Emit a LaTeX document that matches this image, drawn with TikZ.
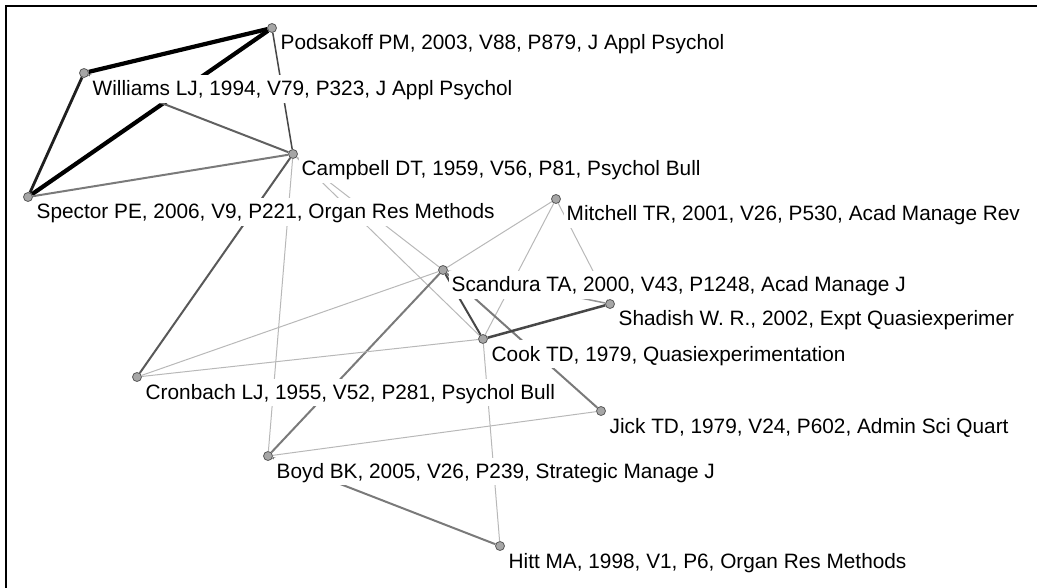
\documentclass[tikz,border=0pt]{standalone}
\usepackage{fontspec}
\setmainfont{Liberation Sans}

\begin{document}
\begin{tikzpicture}[x=1pt,y=-1pt,
  refnode/.style={circle,draw=black!65,fill=black!35,line width=0.8pt,inner sep=0pt,minimum size=9pt},
  reflabel/.style={anchor=base west,fill=white,inner sep=2.5pt,text height=18pt,text depth=4.5pt,font=\fontsize{20.8}{24}\selectfont},
  weaktie/.style={black!28,line width=1pt},
  midtie/.style={black!52,line width=2pt},
  strongtie/.style={black!72,line width=2pt},
  heavytie/.style={black!88,line width=2.8pt},
  toptie/.style={black,line width=4.2pt}]
\useasboundingbox (0,0) rectangle (1037,588);
\draw[line width=2pt] (6,588) -- (6,6) -- (1037,6);
% cited references
\node[refnode] (pod) at (272,28) {};
\node[refnode] (wil) at (84,73) {};
\node[refnode] (cam) at (293,154) {};
\node[refnode] (spe) at (28,197) {};
\node[refnode] (mit) at (556,199) {};
\node[refnode] (sca) at (443,270) {};
\node[refnode] (sha) at (610,304) {};
\node[refnode] (coo) at (483,339) {};
\node[refnode] (cro) at (137,377) {};
\node[refnode] (jic) at (601,411) {};
\node[refnode] (boy) at (268,456) {};
\node[refnode] (hit) at (500,546) {};
% co-citation links
\draw[toptie] (pod) -- (wil);
\draw[toptie] (pod) -- (spe);
\draw[heavytie] (wil) -- (spe);
\draw[strongtie,line width=1.5pt] (pod) -- (cam);
\draw[midtie,black!62] (wil) -- (cam);
\draw[midtie] (spe) -- (cam);
\draw[strongtie,black!65] (cam) -- (cro);
\draw[weaktie] (cam) -- (boy);
\draw[weaktie] (cam) -- (sca);
\draw[weaktie] (cam) -- (coo);
\draw[weaktie] (mit) -- (sca);
\draw[weaktie] (mit) -- (coo);
\draw[weaktie] (mit) -- (sha);
\draw[weaktie] (sca) -- (cro);
\draw[midtie,black!42,line width=1.5pt] (sca) -- (sha);
\draw[strongtie] (sca) -- (coo);
\draw[midtie] (sca) -- (jic);
\draw[midtie] (sca) -- (boy);
\draw[strongtie,line width=2.5pt] (coo) -- (sha);
\draw[weaktie] (coo) -- (cro);
\draw[weaktie] (coo) -- (hit);
\draw[weaktie] (boy) -- (jic);
\draw[midtie] (boy) -- (hit);
% labels
\node[reflabel] (podL) at ([shift={(6,22)}]pod.center) {Podsakoff PM, 2003, V88, P879, J Appl Psychol};
\node[reflabel] (wilL) at ([shift={(6,23)}]wil.center) {Williams LJ, 1994, V79, P323, J Appl Psychol};
\node[reflabel] (camL) at ([shift={(6,22)}]cam.center) {Campbell DT, 1959, V56, P81, Psychol Bull};
\node[reflabel] (speL) at ([shift={(6,22)}]spe.center) {Spector PE, 2006, V9, P221, Organ Res Methods};
\node[reflabel] (mitL) at ([shift={(8,22)}]mit.center) {Mitchell TR, 2001, V26, P530, Acad Manage Rev};
\node[reflabel] (scaL) at ([shift={(6,22)}]sca.center) {Scandura TA, 2000, V43, P1248, Acad Manage J};
\node[reflabel] (shaL) at ([shift={(6,22)}]sha.center) {Shadish W. R., 2002, Expt Quasiexperimer};
\node[reflabel] (cooL) at ([shift={(6,22)}]coo.center) {Cook TD, 1979, Quasiexperimentation};
\node[reflabel] (croL) at ([shift={(6,22)}]cro.center) {Cronbach LJ, 1955, V52, P281, Psychol Bull};
\node[reflabel] (jicL) at ([shift={(6,22)}]jic.center) {Jick TD, 1979, V24, P602, Admin Sci Quart};
\node[reflabel] (boyL) at ([shift={(6,22)}]boy.center) {Boyd BK, 2005, V26, P239, Strategic Manage J};
\node[reflabel] (hitL) at ([shift={(6,22)}]hit.center) {Hitt MA, 1998, V1, P6, Organ Res Methods};
\end{tikzpicture}
\end{document}
